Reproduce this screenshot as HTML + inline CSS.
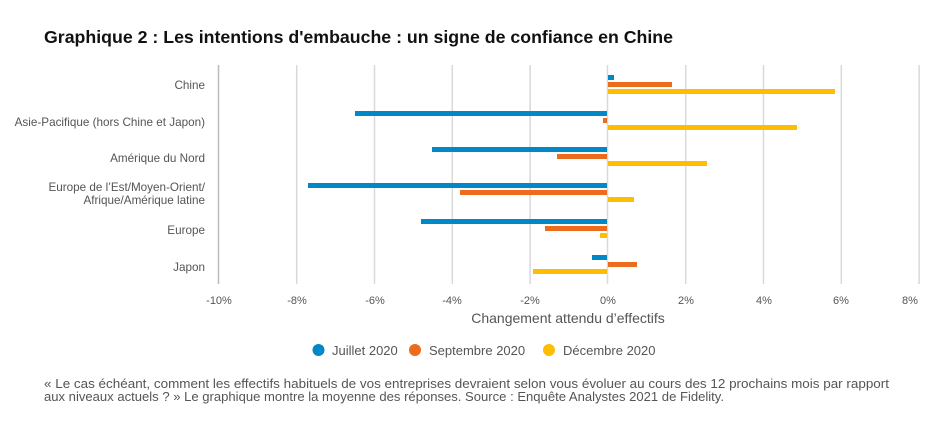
<!DOCTYPE html>
<html><head><meta charset="utf-8"><style>
body{margin:0;background:#fff;font-family:"Liberation Sans",Arial,sans-serif;}
</style></head><body>
<svg width="945" height="428" xmlns="http://www.w3.org/2000/svg" font-family="Liberation Sans, Arial, sans-serif">
<rect width="945" height="428" fill="#fff"/>
<text x="44" y="43" font-size="17.7" font-weight="bold" fill="#111" textLength="629" lengthAdjust="spacingAndGlyphs">Graphique 2 : Les intentions d'embauche : un signe de confiance en Chine</text>
<g stroke="#d9d9d9" stroke-width="1.5">
<line x1="296.7" y1="65" x2="296.7" y2="284"/>
<line x1="374.5" y1="65" x2="374.5" y2="284"/>
<line x1="452.3" y1="65" x2="452.3" y2="284"/>
<line x1="530.1" y1="65" x2="530.1" y2="284"/>
<line x1="607.5" y1="65" x2="607.5" y2="284"/>
<line x1="685.7" y1="65" x2="685.7" y2="284"/>
<line x1="763.5" y1="65" x2="763.5" y2="284"/>
<line x1="841.3" y1="65" x2="841.3" y2="284"/>
<line x1="919.1" y1="65" x2="919.1" y2="284"/>
</g>
<line x1="218.5" y1="65" x2="218.5" y2="284" stroke="#bbb" stroke-width="1.5"/>
<g font-size="11" fill="#555" text-anchor="middle">
<text x="219" y="304">-10%</text><text x="297" y="304">-8%</text><text x="375" y="304">-6%</text><text x="452" y="304">-4%</text><text x="530" y="304">-2%</text><text x="608" y="304">0%</text><text x="686" y="304">2%</text><text x="764" y="304">4%</text><text x="841" y="304">6%</text><text x="910" y="304">8%</text>
</g>
<text x="568" y="323" font-size="14" fill="#555" text-anchor="middle">Changement attendu d’effectifs</text>
<g font-size="11.7" fill="#555" text-anchor="end">
<text x="205" y="89">Chine</text>
<text x="205" y="126">Asie-Pacifique (hors Chine et Japon)</text>
<text x="205" y="162">Amérique du Nord</text>
<text x="205" y="191">Europe de l’Est/Moyen-Orient/</text>
<text x="205" y="204">Afrique/Amérique latine</text>
<text x="205" y="234">Europe</text>
<text x="205" y="271">Japon</text>
</g>
<g>
<rect x="608" y="75" width="6" height="5" fill="#0088c7"/>
<rect x="608" y="82" width="64" height="5" fill="#ec6b1c"/>
<rect x="608" y="89" width="227" height="5" fill="#fdbd00"/>
<rect x="355" y="111" width="252" height="5" fill="#0088c7"/>
<rect x="603" y="118" width="4" height="5" fill="#ec6b1c"/>
<rect x="608" y="125" width="189" height="5" fill="#fdbd00"/>
<rect x="432" y="147" width="175" height="5" fill="#0088c7"/>
<rect x="557" y="154" width="50" height="5" fill="#ec6b1c"/>
<rect x="608" y="161" width="99" height="5" fill="#fdbd00"/>
<rect x="308" y="183" width="299" height="5" fill="#0088c7"/>
<rect x="460" y="190" width="147" height="5" fill="#ec6b1c"/>
<rect x="608" y="197" width="26" height="5" fill="#fdbd00"/>
<rect x="421" y="219" width="186" height="5" fill="#0088c7"/>
<rect x="545" y="226" width="62" height="5" fill="#ec6b1c"/>
<rect x="600" y="233" width="7" height="5" fill="#fdbd00"/>
<rect x="592" y="255" width="15" height="5" fill="#0088c7"/>
<rect x="608" y="262" width="29" height="5" fill="#ec6b1c"/>
<rect x="533" y="269" width="74" height="5" fill="#fdbd00"/>
</g>
<g font-size="13" fill="#555">
<circle cx="318.5" cy="350" r="6" fill="#0088c7"/><text x="332" y="355">Juillet 2020</text>
<circle cx="415" cy="350" r="6" fill="#ec6b1c"/><text x="429" y="355">Septembre 2020</text>
<circle cx="549" cy="350" r="6" fill="#fdbd00"/><text x="563" y="355">Décembre 2020</text>
</g>
<g font-size="13" fill="#555">
<text x="44" y="388" textLength="845" lengthAdjust="spacingAndGlyphs">« Le cas échéant, comment les effectifs habituels de vos entreprises devraient selon vous évoluer au cours des 12 prochains mois par rapport</text>
<text x="44" y="401" textLength="680" lengthAdjust="spacingAndGlyphs">aux niveaux actuels ? » Le graphique montre la moyenne des réponses. Source : Enquête Analystes 2021 de Fidelity.</text>
</g>
</svg>
</body></html>
